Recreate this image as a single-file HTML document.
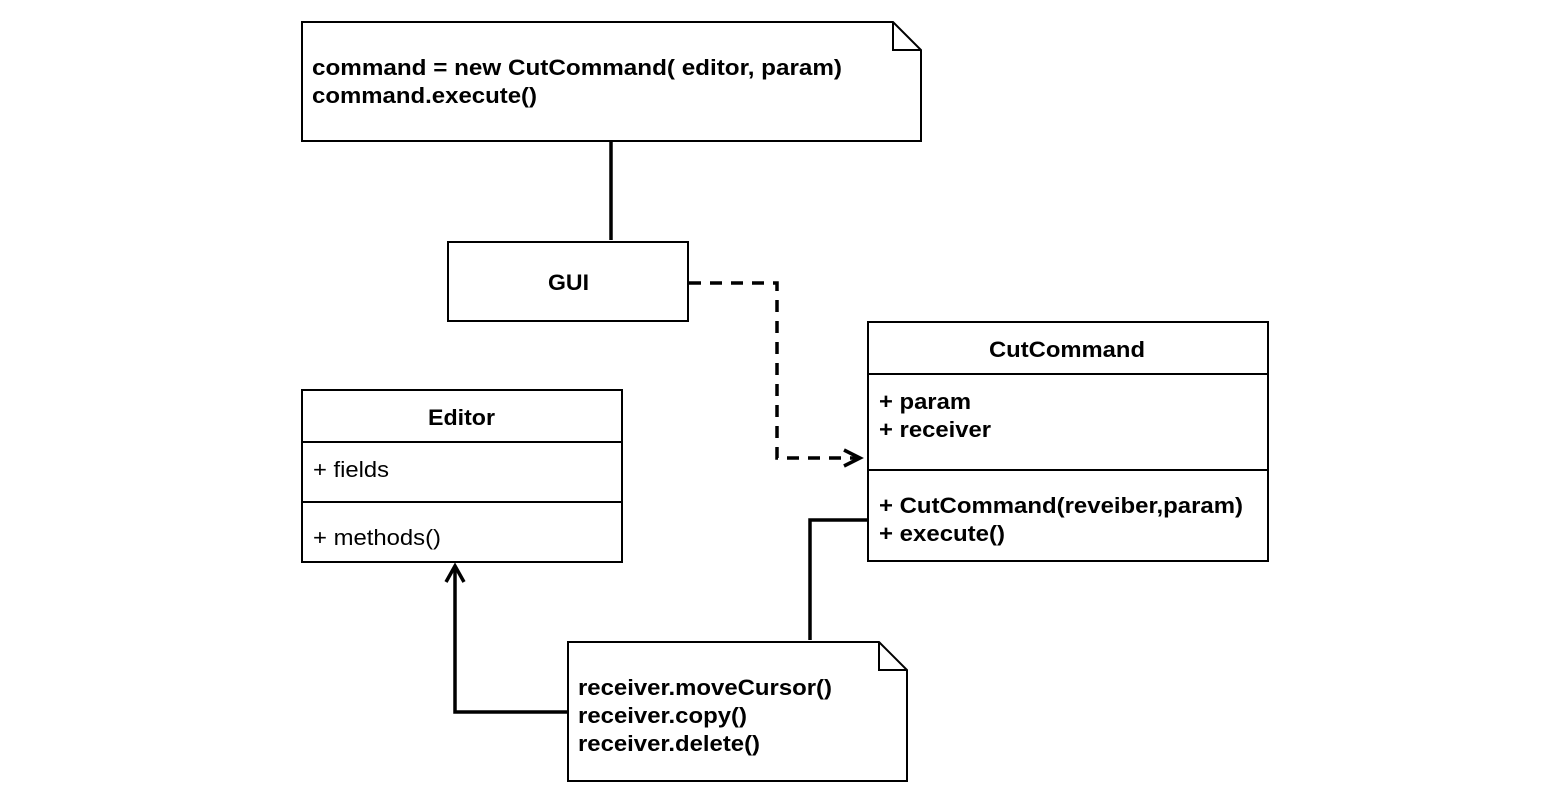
<!DOCTYPE html>
<html><head><meta charset="utf-8"><style>html,body{margin:0;padding:0;background:#fff}svg{display:block}</style></head>
<body>
<svg width="1562" height="806" viewBox="0 0 1562 806" xmlns="http://www.w3.org/2000/svg" font-family="Liberation Sans, Arial, sans-serif" font-size="22">
<rect width="1562" height="806" fill="#fff"/>
<g fill="none" stroke="#000" stroke-width="2">
<path d="M302 22 H893 L921 50 V141 H302 Z" fill="#fff"/>
<path d="M893 22 V50 H921"/>
<rect x="448" y="242" width="240" height="79" fill="#fff"/>
<rect x="868" y="322" width="400" height="239" fill="#fff"/>
<path d="M868 374 H1268 M868 470 H1268"/>
<rect x="302" y="390" width="320" height="172" fill="#fff"/>
<path d="M302 442 H622 M302 502 H622"/>
<path d="M568 642 H879 L907 670 V781 H568 Z" fill="#fff"/>
<path d="M879 642 V670 H907"/>
</g>
<g fill="none" stroke="#000" stroke-width="3.5">
<path d="M611 142 V240"/>
<path d="M867 520 H810 V640"/>
<path d="M567 712 H455 V568"/>
<path d="M446 582 L455 566 L464 582"/>
<path d="M689 283 H777 V458 H858" stroke-dasharray="12 9"/>
<path d="M844 450 L860 458 L844 466"/>
</g>
<g font-weight="bold" fill="#000">
<text x="312" y="75" textLength="530" lengthAdjust="spacingAndGlyphs">command = new  CutCommand( editor, param)</text>
<text x="312" y="103" textLength="225" lengthAdjust="spacingAndGlyphs">command.execute()</text>
<text x="548" y="290" textLength="41" lengthAdjust="spacingAndGlyphs">GUI</text>
<text x="989" y="357" textLength="156" lengthAdjust="spacingAndGlyphs">CutCommand</text>
<text x="879" y="409" textLength="92" lengthAdjust="spacingAndGlyphs">+ param</text>
<text x="879" y="437" textLength="112" lengthAdjust="spacingAndGlyphs">+ receiver</text>
<text x="879" y="513" textLength="364" lengthAdjust="spacingAndGlyphs">+ CutCommand(reveiber,param)</text>
<text x="879" y="541" textLength="126" lengthAdjust="spacingAndGlyphs">+ execute()</text>
<text x="428" y="425" textLength="67" lengthAdjust="spacingAndGlyphs">Editor</text>
<text x="578" y="695" textLength="254" lengthAdjust="spacingAndGlyphs">receiver.moveCursor()</text>
<text x="578" y="723" textLength="169" lengthAdjust="spacingAndGlyphs">receiver.copy()</text>
<text x="578" y="751" textLength="182" lengthAdjust="spacingAndGlyphs">receiver.delete()</text>
</g>
<text x="313" y="477" fill="#000" textLength="76" lengthAdjust="spacingAndGlyphs">+ fields</text>
<text x="313" y="545" fill="#000" textLength="128" lengthAdjust="spacingAndGlyphs">+ methods()</text>
</svg>
</body></html>
